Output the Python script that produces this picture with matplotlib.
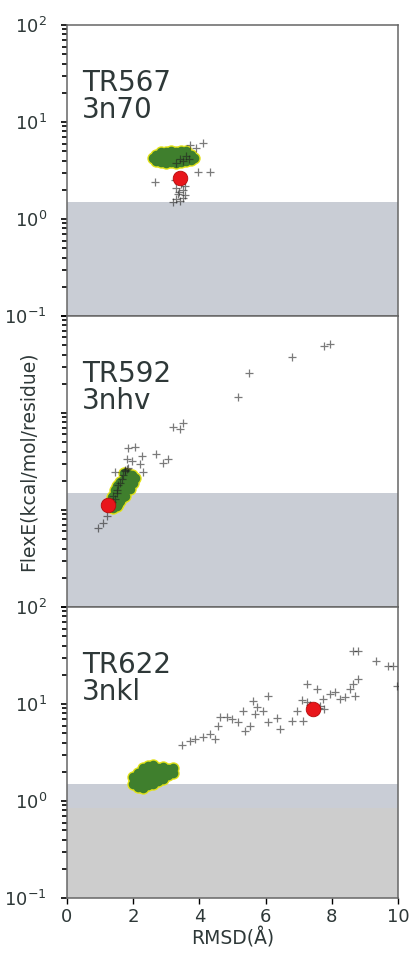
import numpy as np
import matplotlib
matplotlib.use("Agg")
import matplotlib.pyplot as plt

# panel labels
targets = ["TR567\n3n70", "TR592\n3nhv", "TR622\n3nkl"]

# native-like cloud (green) per target
cloud1_x = [2.6, 2.7, 2.7, 2.85, 2.85, 2.85, 3.0, 3.0, 3.0, 3.15, 3.15, 3.15,
            3.3, 3.3, 3.3, 3.45, 3.45, 3.45, 3.6, 3.6, 3.6, 3.75, 3.75, 3.85]
cloud1_y = [4.3, 4.0, 4.6, 3.9, 4.4, 4.9, 3.8, 4.3, 4.9, 3.9, 4.4, 5.0,
            3.8, 4.3, 4.9, 3.9, 4.4, 5.0, 4.0, 4.5, 5.0, 4.1, 4.6, 4.3]

cloud2_x = [1.3, 1.35, 1.45, 1.4, 1.5, 1.55, 1.45, 1.6, 1.65, 1.55, 1.7,
            1.75, 1.65, 1.8, 1.85, 1.75, 1.9, 1.95, 1.85, 1.5, 1.6, 1.7,
            1.4, 1.55, 1.75, 1.9, 2.0, 2.05, 1.35, 1.5, 1.6, 1.72]
cloud2_y = [1.1, 1.25, 1.2, 1.4, 1.35, 1.55, 1.6, 1.4, 1.7, 1.8, 1.55,
            1.9, 2.0, 1.75, 2.1, 2.2, 2.0, 2.3, 2.35, 1.1, 1.25, 1.35,
            1.05, 1.15, 1.4, 1.65, 1.9, 2.15, 1.35, 1.75, 1.95, 2.4]

cloud3_x = [2.0, 2.0, 2.15, 2.15, 2.15, 2.3, 2.3, 2.3, 2.3, 2.45, 2.45, 2.45, 2.45,
            2.6, 2.6, 2.6, 2.6, 2.75, 2.75, 2.75, 2.9, 2.9, 2.9, 3.05, 3.05, 3.2, 3.2]
cloud3_y = [1.5, 1.75, 1.4, 1.65, 1.95, 1.35, 1.6, 1.9, 2.2, 1.45, 1.75, 2.05, 2.3,
            1.5, 1.8, 2.1, 2.35, 1.6, 1.9, 2.2, 1.7, 2.0, 2.25, 1.85, 2.15, 1.95, 2.2]

# decoys (crosses)
dec1_x = [3.4, 3.5, 3.6, 3.7, 3.3, 3.45, 3.3, 3.5, 3.35, 3.55, 3.3, 3.4, 3.2,
          3.45, 3.55, 3.25, 2.66, 3.96, 4.32, 3.72, 4.1, 3.9, 3.5, 3.38]
dec1_y = [4.2, 4.0, 4.5, 4.2, 3.8, 2.3, 2.1, 2.0, 1.8, 1.75, 1.6, 1.55, 1.5,
          2.5, 2.2, 2.55, 2.4, 3.08, 3.08, 5.85, 6.1, 5.4, 1.65, 1.9]

dec2_x = [0.95, 1.1, 1.2, 1.85, 2.05, 2.26, 1.8, 1.95, 2.2, 1.85, 1.75, 2.3, 1.45,
          2.7, 3.05, 2.9, 3.2, 3.42, 3.5, 5.17, 5.5, 6.8, 7.75, 7.95,
          1.4, 1.5, 1.55, 1.6, 1.65, 1.7, 1.45, 1.5, 1.75, 1.8, 1.35]
dec2_y = [0.65, 0.74, 0.87, 4.35, 4.5, 3.6, 3.36, 3.2, 2.98, 2.7, 2.6, 2.45, 2.45,
          3.77, 3.36, 3.05, 7.1, 6.8, 7.9, 14.6, 26, 37.8, 49, 51,
          1.4, 1.6, 1.8, 1.9, 2.1, 2.3, 1.3, 1.5, 2.5, 2.65, 1.2]

dec3_x = [3.46, 3.72, 3.87, 4.11, 4.32, 4.47, 4.57, 4.62, 4.82, 4.98, 5.17, 5.32,
          5.38, 5.53, 5.62, 5.68, 5.73, 5.92, 6.07, 6.07, 6.33, 6.43, 6.79, 6.94,
          7.13, 7.09, 7.24, 7.54, 7.64, 7.73, 7.95, 8.1, 8.25, 8.4, 8.55, 8.64,
          8.79, 8.7, 8.64, 8.79, 9.35, 9.7, 9.86, 9.96, 7.25, 7.35, 7.6, 7.75]
dec3_y = [3.78, 4.19, 4.37, 4.54, 4.9, 4.37, 5.97, 7.35, 7.35, 7.06, 6.46, 8.5,
          5.3, 5.97, 10.8, 7.9, 9.25, 8.5, 12.2, 6.46, 7.2, 5.5, 6.7, 8.5,
          6.7, 11.1, 16.1, 14.3, 9.6, 11.3, 12.7, 13.2, 11.3, 11.7, 14.3, 16.1,
          18.1, 12.2, 35.5, 35.5, 28, 24.8, 24.8, 15.5, 10.5, 9.8, 9.2, 8.8]

# best model (red dot)
best_x = [3.41, 1.25, 7.44]
best_y = [2.67, 1.13, 8.9]

clouds = [(cloud1_x, cloud1_y), (cloud2_x, cloud2_y), (cloud3_x, cloud3_y)]
decoys = [(dec1_x, dec1_y), (dec2_x, dec2_y), (dec3_x, dec3_y)]

band_top = 1.5
text_col = "#2e3838"

fig = plt.figure(figsize=(4.13, 9.58), dpi=100)
left, width, height = 0.1622, 0.8015, 0.3038
bottoms = [0.6701, 0.3664, 0.0626]

axes = []
for i in range(3):
    ax = fig.add_axes([left, bottoms[i], width, height])
    ax.set_yscale("log")
    ax.set_xlim(0, 10)
    ax.set_ylim(0.1, 100)

    if i == 2:
        ax.axhspan(0.1, 0.85, color="#cdcdcd", zorder=0, lw=0)
        ax.axhspan(0.85, band_top, color="#c9cdd6", zorder=0, lw=0)
    else:
        ax.axhspan(0.1, band_top, color="#c9cdd5", zorder=0, lw=0)

    cx, cy = clouds[i]
    ax.scatter(cx, cy, s=80, color="#e2e21a", lw=0, zorder=2)
    ax.scatter(cx, cy, s=48, color="#3f7f2d", lw=0, zorder=3)

    dx, dy = decoys[i]
    ax.scatter(dx, dy, s=35, marker="+", color="#222222", alpha=0.6, lw=0.9, zorder=4)

    ax.scatter([best_x[i]], [best_y[i]], s=110, color="#e8161b",
               edgecolor="#b40a0a", lw=0.6, zorder=5)

    ax.text(0.045, 0.85, targets[i], transform=ax.transAxes, ha="left", va="top",
            fontsize=20, color=text_col, linespacing=0.95)

    for sp in ax.spines.values():
        sp.set_color("#666666")
        sp.set_linewidth(1.1)

    ax.tick_params(axis="y", which="major", length=4.5, width=1.2, color="black",
                   labelsize=13, labelcolor=text_col, pad=10)
    ax.tick_params(axis="y", which="minor", length=3.5, width=1.2, color="black")
    ax.tick_params(axis="x", labelsize=13, labelcolor=text_col, length=4, width=1.0)
    ax.set_xticks([0, 2, 4, 6, 8, 10])
    if i < 2:
        ax.tick_params(axis="x", bottom=False, labelbottom=False)
    if i == 1:
        ax.tick_params(axis="y", which="both", labelleft=False)
    axes.append(ax)

axes[2].set_xlabel("RMSD(Å)", fontsize=13.5, color=text_col, labelpad=1)
axes[1].set_ylabel("FlexE(kcal/mol/residue)", fontsize=13.5, color=text_col)
axes[1].yaxis.set_label_coords(-0.088, 0.5)

fig.savefig("out.png", dpi=100)
